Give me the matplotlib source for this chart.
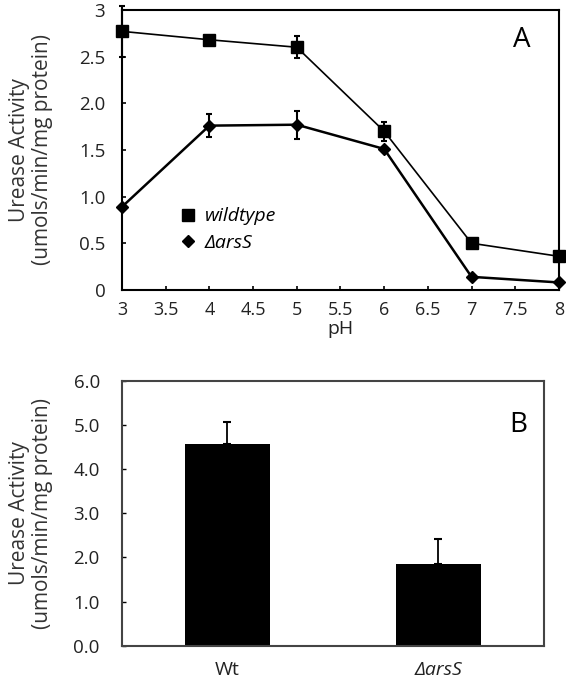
import matplotlib.pyplot as plt
from matplotlib.lines import Line2D
import numpy as np

plt.rcParams['font.family'] = ['Open Sans', 'DejaVu Sans']

# panel A data
ph = [3, 4, 5, 6, 7, 8]
wt_vals = [2.77, 2.68, 2.60, 1.70, 0.50, 0.36]
wt_err = [0.27, 0.0, 0.12, 0.10, 0.0, 0.0]
ars_vals = [0.89, 1.76, 1.77, 1.51, 0.14, 0.08]
ars_err = [0.0, 0.12, 0.15, 0.0, 0.0, 0.0]
xtick_labels = ['3', '3.5', '4', '4.5', '5', '5.5', '6', '6.5', '7', '7.5', '8']
ytick_vals = [0, 0.5, 1.0, 1.5, 2.0, 2.5, 3]
ytick_labels = ['0', '0.5', '1.0', '1.5', '2.0', '2.5', '3']

# panel B data
strains = ['Wt', 'ΔarsS']
bar_vals = [4.56, 1.86]
bar_err = [0.51, 0.55]

ylab = 'Urease Activity\n(umols/min/mg protein)'
txtc = '#222222'

fig = plt.figure(figsize=(5.66, 6.87), dpi=100)

# ---- panel A
ax1 = fig.add_axes([0.2155, 0.578, 0.772, 0.4076])
ax1.errorbar(ph, wt_vals, yerr=wt_err, color='black', marker='s', markersize=9,
             lw=1.2, capsize=2.5, elinewidth=1.5, capthick=1.5, clip_on=False, zorder=3)
ax1.errorbar(ph, ars_vals, yerr=ars_err, color='black', marker='D', markersize=6.5,
             lw=1.8, capsize=2.5, elinewidth=1.5, capthick=1.5, clip_on=False, zorder=3)
ax1.set_xlim(3, 8)
ax1.set_ylim(0, 3)
ax1.set_xticks(np.arange(3, 8.01, 0.5))
ax1.set_xticklabels(xtick_labels)
ax1.set_yticks(ytick_vals)
ax1.set_yticklabels(ytick_labels)
ax1.tick_params(axis='x', direction='in', length=3, width=1.2, labelsize=13, pad=8, labelcolor=txtc)
ax1.tick_params(axis='y', direction='in', length=3, width=1.2, labelsize=13.5, pad=12, labelcolor=txtc)
for s in ax1.spines.values():
    s.set_linewidth(1.5)
ax1.set_xlabel('pH', fontsize=14, labelpad=1, color=txtc)
ax1.set_ylabel(ylab, fontsize=15, color='#333333', linespacing=1.1)
ax1.yaxis.set_label_coords(-0.158, 0.5)
ax1.text(0.915, 0.866, 'A', transform=ax1.transAxes, fontsize=20, ha='center', va='baseline')
handles = [Line2D([], [], ls='none', marker='s', color='black', markersize=9),
           Line2D([], [], ls='none', marker='D', color='black', markersize=6.5)]
ax1.legend(handles, ['wildtype', 'ΔarsS'], loc='lower left', bbox_to_anchor=(0.11, 0.1),
           frameon=False, prop={'style': 'italic', 'size': 14}, handlelength=0.8,
           handletextpad=0.5, labelspacing=0.45, borderpad=0)

# ---- panel B
ax2 = fig.add_axes([0.2155, 0.0601, 0.7456, 0.3858])
x = np.arange(len(strains))
ax2.bar(x, bar_vals, width=0.4, color='black')
ax2.errorbar(x, bar_vals, yerr=[[0, 0], bar_err], fmt='none', ecolor='black',
             elinewidth=1.3, capsize=3, capthick=1.5)
ax2.set_xlim(-0.5, 1.5)
ax2.set_ylim(0, 6)
ax2.set_yticks(np.arange(0, 6.01, 1.0))
ax2.set_yticklabels(['%.1f' % v for v in np.arange(0, 6.01, 1.0)])
ax2.set_xticks(x)
ax2.set_xticklabels(strains)
ax2.get_xticklabels()[1].set_style('italic')
ax2.tick_params(axis='y', direction='in', length=3, width=1.0, labelsize=13.5, pad=16, labelcolor=txtc)
ax2.tick_params(axis='x', length=0, labelsize=14, pad=11, labelcolor=txtc)
for s in ax2.spines.values():
    s.set_linewidth(1.5)
    s.set_color('#444444')
ax2.set_ylabel(ylab, fontsize=15, color='#333333', linespacing=1.1)
ax2.yaxis.set_label_coords(-0.164, 0.5)
ax2.text(0.938, 0.806, 'B', transform=ax2.transAxes, fontsize=20, ha='center', va='baseline')

fig.savefig('out.png', dpi=100)
